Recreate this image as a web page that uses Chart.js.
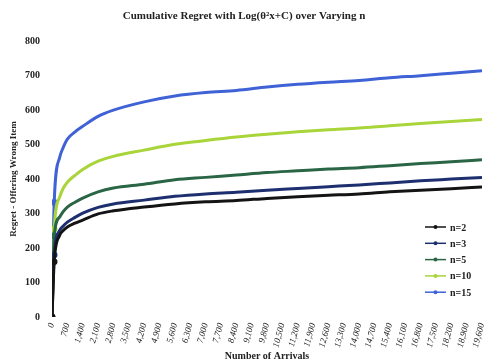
<!DOCTYPE html>
<html>
<head>
<meta charset="utf-8">
<script src="https://cdn.jsdelivr.net/npm/chart.js@4"></script>
<style>
  html, body { margin: 0; padding: 0; background: #fff; }
  #wrap { width: 489px; height: 364px; position: relative; }
</style>
</head>
<body>
<div id="wrap"><canvas id="regretChart"></canvas></div>
<script>
// arrivals sampled along the run
const arrivals = [0, 100, 350, 500, 700, 1050, 1400, 2100, 2800, 4200, 5600, 7000, 8400, 9800, 11200, 12600, 14000, 15400, 16800, 18200, 19600];

// cumulative regret per number of items n
const regretN2  = [0, 160, 237, 250, 261, 272, 281, 299, 308, 319, 328, 334, 338, 344, 349, 353, 357, 363, 368, 372, 377];
const regretN3  = [0, 180, 251, 263, 275, 289, 301, 318, 328, 339, 350, 357, 362, 368, 373, 378, 383, 389, 395, 400, 405];
const regretN5  = [0, 235, 290, 305, 319, 333, 345, 363, 374, 385, 398, 405, 412, 419, 424, 429, 433, 439, 445, 450, 456];
const regretN10 = [0, 255, 348, 372, 391, 411, 428, 452, 466, 484, 501, 512, 522, 530, 537, 543, 548, 555, 561, 567, 573];
const regretN15 = [0, 333, 463, 490, 516, 537, 553, 582, 600, 624, 641, 651, 657, 667, 675, 681, 686, 694, 700, 707, 714];

const seriesLabels = ['n=2', 'n=3', 'n=5', 'n=10', 'n=15'];
const seriesColors = ['#141414', '#1d2f6e', '#2a6645', '#a9d43a', '#3f62d6'];

const serif = '"Liberation Serif", "DejaVu Serif", serif';

function toPoints(values) {
    return values.map((v, i) => ({ x: arrivals[i], y: v }));
}

// legend drawn inside the plot, lower right corner
const insideLegend = {
    id: 'insideLegend',
    afterDraw(chart) {
        const ctx = chart.ctx;
        ctx.save();
        ctx.font = 'bold 10px ' + serif;
        ctx.textBaseline = 'middle';
        chart.data.datasets.forEach((ds, i) => {
            const y = 227 + i * 16.3;
            ctx.strokeStyle = ds.borderColor;
            ctx.lineWidth = 1.5;
            ctx.beginPath();
            ctx.moveTo(425, y);
            ctx.lineTo(446, y);
            ctx.stroke();
            ctx.fillStyle = ds.borderColor;
            ctx.beginPath();
            ctx.arc(435.5, y, 2, 0, Math.PI * 2);
            ctx.fill();
            ctx.fillStyle = '#222';
            ctx.fillText(ds.label, 450, y + 1);
        });
        ctx.restore();
    }
};

const allSeries = [regretN2, regretN3, regretN5, regretN10, regretN15];

const datasets = seriesLabels.map((label, i) => ({
    label: label,
    data: toPoints(allSeries[i]),
    borderColor: seriesColors[i],
    backgroundColor: seriesColors[i],
    borderWidth: 3,
    // markers only show where the samples are sparse at the start
    pointRadius: ctx => (ctx.dataIndex < 2 ? 1.8 : 0),
    cubicInterpolationMode: 'monotone'
}));

new Chart(document.getElementById('regretChart'), {
    type: 'line',
    data: { datasets: datasets },
    plugins: [insideLegend],
    options: {
        responsive: true,
        maintainAspectRatio: false,
        animation: false,
        layout: { padding: { left: 0, right: 1, top: 0, bottom: 0 } },
        plugins: {
            legend: { display: false },
            tooltip: { enabled: false },
            title: {
                display: true,
                text: 'Cumulative Regret with Log(θ²x+C) over Varying n',
                color: '#222',
                font: { family: serif, size: 11, weight: 'bold' },
                padding: { top: 10, bottom: 18 }
            }
        },
        scales: {
            x: {
                type: 'linear',
                min: 0,
                max: 19600,
                grid: { display: false, drawTicks: false },
                border: { display: false },
                ticks: {
                    stepSize: 700,
                    autoSkip: false,
                    minRotation: 75,
                    maxRotation: 75,
                    padding: 5,
                    color: '#222',
                    font: { family: serif, size: 9, style: 'italic' },
                    callback: function(value) {
                        return value.toLocaleString('en-US');
                    }
                },
                title: {
                    display: true,
                    text: 'Number of Arrivals',
                    color: '#222',
                    font: { family: serif, size: 10, weight: 'bold' },
                    padding: { top: 0, bottom: 2 }
                },
                afterFit: function(scale) {
                    scale.height = 47;
                    scale.paddingRight = 0;
                }
            },
            y: {
                min: 0,
                max: 800,
                grid: { display: false, drawTicks: false },
                border: { display: false },
                ticks: {
                    stepSize: 100,
                    padding: 12,
                    color: '#222',
                    font: { family: serif, size: 10, weight: 'bold' }
                },
                title: {
                    display: true,
                    text: 'Regret - Offering Wrong Item',
                    color: '#222',
                    font: { family: serif, size: 9, weight: 'bold' },
                    padding: { top: 8, bottom: 0 }
                },
                afterFit: function(scale) {
                    scale.width = 52;
                }
            }
        }
    }
});
</script>
</body>
</html>
